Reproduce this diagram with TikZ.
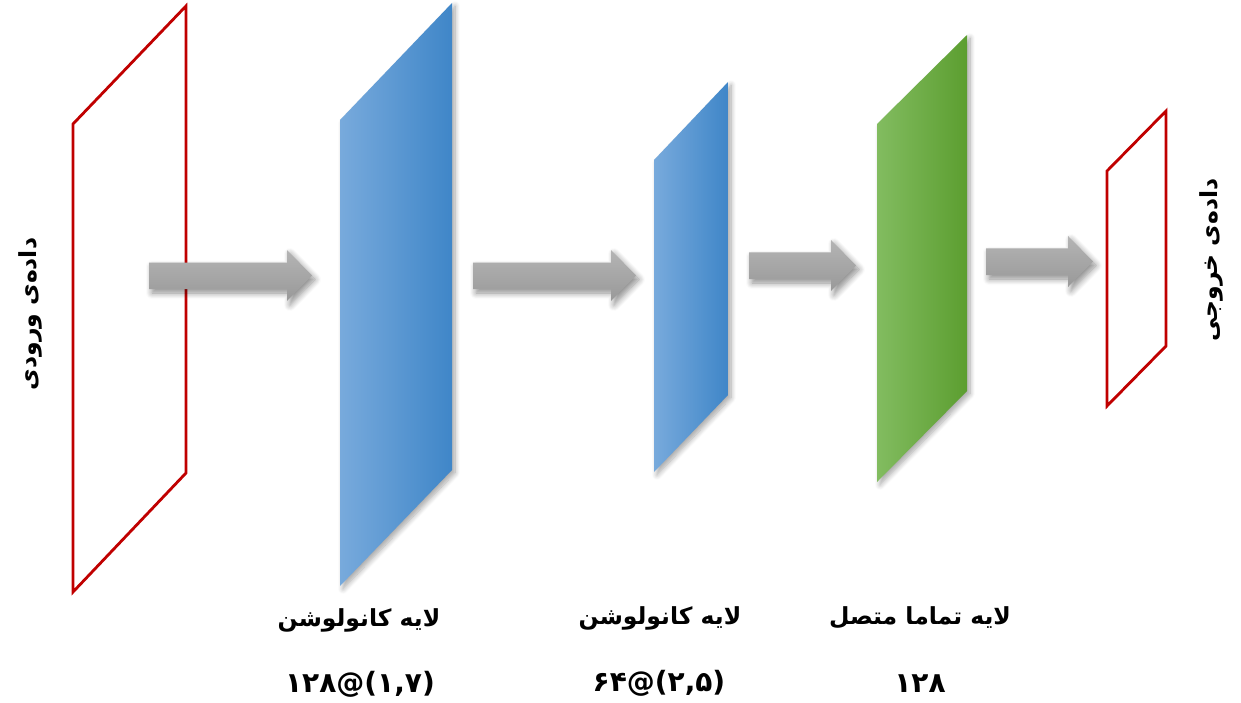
\documentclass[tikz,border=0pt]{standalone}
\usepackage{fontspec}
\newfontfamily\arabicfont[Script=Arabic]{DejaVu Sans}
\newfontfamily\numfont{DejaVu Sans}
\TeXXeTstate=1
\usetikzlibrary{shadows.blur}
\definecolor{redline}{HTML}{C00000}
\definecolor{blueL}{HTML}{78AADC}
\definecolor{blueR}{HTML}{3F86C8}
\definecolor{greenL}{HTML}{82BC60}
\definecolor{greenR}{HTML}{5C9E30}
\definecolor{arrowT}{HTML}{B4B4B4}
\definecolor{arrowB}{HTML}{999999}
\tikzset{
  dataframe/.style={draw=redline, line width=2.8pt, line join=miter},
  layerblue/.style={left color=blueL, right color=blueR,
    blur shadow={shadow xshift=3pt, shadow yshift=-3pt, shadow blur steps=8, shadow blur radius=5pt, shadow opacity=35}},
  layergreen/.style={left color=greenL, right color=greenR,
    blur shadow={shadow xshift=3pt, shadow yshift=-3pt, shadow blur steps=8, shadow blur radius=5pt, shadow opacity=35}},
  grayarrow/.style={top color=arrowT, bottom color=arrowB,
    blur shadow={shadow xshift=3pt, shadow yshift=-4pt, shadow blur steps=8, shadow blur radius=6pt, shadow opacity=45}},
  lbl/.style={font=\arabicfont\bfseries\fontsize{23.5}{27}\selectfont, inner sep=0pt},
  numlbl/.style={font=\numfont\bfseries\fontsize{28}{32}\selectfont, inner sep=0pt},
}
\begin{document}
\begin{tikzpicture}[x=1pt,y=-1pt]
\useasboundingbox (0,0) rectangle (1241,703);
% input frame
\draw[dataframe] (73,124) -- (186,6) -- (186,473) -- (73,592) -- cycle;
% arrows
\shade[grayarrow] (149,262.5) -- (287,262.5) -- (287,250) -- (312,275.5) -- (287,301) -- (287,289) -- (149,289) -- cycle;
\shade[grayarrow] (473,262.5) -- (611,262.5) -- (611,250) -- (636,275.5) -- (611,301) -- (611,289) -- (473,289) -- cycle;
\shade[grayarrow] (749,252.5) -- (831,252.5) -- (831,240) -- (856,265.5) -- (831,291) -- (831,279) -- (749,279) -- cycle;
\shade[grayarrow] (986,248.5) -- (1068,248.5) -- (1068,236) -- (1093,261.5) -- (1068,287) -- (1068,275) -- (986,275) -- cycle;
% layers
\shade[layerblue] (340,120) -- (452,3) -- (452,470) -- (340,586) -- cycle;
\shade[layerblue] (654,160) -- (728,82) -- (728,395) -- (654,472) -- cycle;
\shade[layergreen] (877,124) -- (967,35) -- (967,391) -- (877,482) -- cycle;
% output frame
\draw[dataframe] (1107,171) -- (1166,111) -- (1166,346) -- (1107,406) -- cycle;
% labels
\node[lbl, rotate=90] (inlbl) at (30,314) {\beginR داده‌ی ورودی\endR};
\node[lbl, rotate=90] (outlbl) at (1211,260) {\beginR داده‌ی خروجی\endR};
\node[lbl] (c1a) at (359,620) {\beginR لایه کانولوشن\endR};
\node[numlbl] (c1b) at (360,684) {۱۲۸@(۱,۷)};
\node[lbl] (c2a) at (660,618) {\beginR لایه کانولوشن\endR};
\node[numlbl] (c2b) at (659,683) {۶۴@(۲,۵)};
\node[lbl] (fca) at (920,618) {\beginR لایه تماما متصل\endR};
\node[numlbl] (fcb) at (920,684) {۱۲۸};
\end{tikzpicture}
\end{document}
